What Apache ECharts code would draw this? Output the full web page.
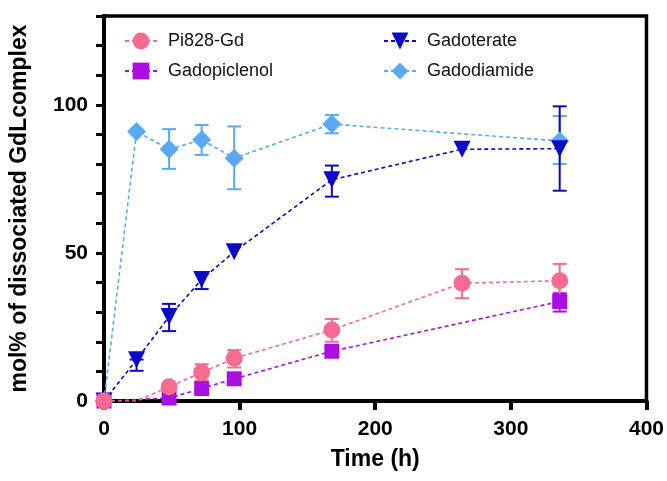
<!DOCTYPE html>
<html>
<head>
<meta charset="utf-8">
<script src="https://cdn.jsdelivr.net/npm/echarts@6/dist/echarts.min.js"></script>
<style>
  html, body { margin: 0; padding: 0; background: #fff; }
  #chart { width: 667px; height: 481px; }
</style>
</head>
<body>
<div id="chart"></div>
<script>
// time points (h) and mol% of dissociated complex
const pi828Time = [0, 24, 48, 72, 96, 168, 264, 336];
const pi828Val = [0, 0, 4.8, 9.6, 14.4, 24, 39.8, 40.6];
const pi828Low = [null, null, null, 6.8, 11.3, 20, 34.7, 35];
const pi828High = [null, null, null, 12.4, 17.2, 27.7, 44.5, 46.3];

const piclenolTime = [0, 48, 72, 96, 168, 336];
const piclenolVal = [0, 1, 4.2, 7.5, 16.8, 33.6];
const piclenolLow = [null, null, null, null, null, 30.2];
const piclenolHigh = [null, null, null, null, null, 36.4];

const teratTime = [0, 24, 48, 72, 96, 168, 264, 336];
const teratVal = [0, 13.9, 28.5, 41, 50.4, 74.7, 85, 85.2];
const teratLow = [null, 10.2, 23.6, 37.8, null, 69, null, 71];
const teratHigh = [null, 14, 32.8, 43.5, null, 79.5, null, 99.5];

const diamideTime = [0, 24, 48, 72, 96, 168, 336];
const diamideVal = [0, 91, 85, 88.2, 82, 93.5, 87.8];
const diamideLow = [null, null, 78.4, 83.1, 71.5, 90.4, 80];
const diamideHigh = [null, null, 91.8, 93.2, 92.7, 96.6, 96.2];

const xTicks = [0, 100, 200, 300, 400];
const yLabelTicks = [0, 50, 100];

const FONT = "'Liberation Sans', Arial, sans-serif";

function points(times, vals) {
  return times.map((t, i) => [t, vals[i]]);
}

function bars(times, low, high) {
  const out = [];
  times.forEach((t, i) => {
    if (low[i] != null) out.push([t, low[i], high[i]]);
  });
  return out;
}

function errorBar(color) {
  return function (params, api) {
    const lo = api.coord([api.value(0), api.value(1)]);
    const hi = api.coord([api.value(0), api.value(2)]);
    const w = 7;
    const style = { stroke: color, lineWidth: 2 };
    return {
      type: 'group',
      children: [
        { type: 'line', shape: { x1: lo[0], y1: lo[1], x2: hi[0], y2: hi[1] }, style: style },
        { type: 'line', shape: { x1: lo[0] - w, y1: lo[1], x2: lo[0] + w, y2: lo[1] }, style: style },
        { type: 'line', shape: { x1: hi[0] - w, y1: hi[1], x2: hi[0] + w, y2: hi[1] }, style: style }
      ]
    };
  };
}

function lineSeries(name, data, color, symbol, size, rotate) {
  return {
    name: name,
    type: 'line',
    data: data,
    symbol: symbol,
    symbolSize: size,
    symbolRotate: rotate || 0,
    z: 5,
    itemStyle: { color: color },
    lineStyle: { color: color, width: 1.6, type: [4, 3] },
    animation: false
  };
}

function barSeries(name, data, color) {
  return {
    name: name + ' SD',
    type: 'custom',
    data: data,
    z: 3,
    encode: { x: 0, y: [1, 2] },
    renderItem: errorBar(color),
    silent: true,
    animation: false
  };
}

const C_PI = '#f76a92';
const C_PIC = '#a90fe0';
const C_TER = '#0a0ac4';
const C_DIA = '#5aa9f5';

// the 24 h point of Pi828-Gd has no visible marker, only the line passes through it
const pi828Data = points(pi828Time, pi828Val).map((p) =>
  p[0] === 24 ? { value: p, symbolSize: 0 } : p
);

const legendBase = {
  orient: 'vertical', top: 27,
  itemWidth: 32, itemHeight: 21, itemGap: 12,
  textStyle: { fontFamily: FONT, fontSize: 18, color: '#111', padding: [0, 0, 0, 6] }
};

const chart = echarts.init(document.getElementById('chart'));
chart.setOption({
  backgroundColor: '#fff',
  grid: {
    left: 103, right: 19, top: 16, bottom: 80,
    show: true, borderColor: '#000', borderWidth: 3.5
  },
  legend: [
    Object.assign({ data: ['Pi828-Gd', 'Gadopiclenol'], left: 119 }, legendBase),
    Object.assign({ data: ['Gadoterate', 'Gadodiamide'], left: 378 }, legendBase)
  ],
  xAxis: {
    type: 'value', min: 0, max: 400, interval: 100,
    name: 'Time (h)', nameLocation: 'middle', nameGap: 47,
    nameTextStyle: { fontFamily: FONT, fontSize: 23, fontWeight: 'bold', color: '#000' },
    axisLine: { show: true, onZero: false, lineStyle: { color: '#000', width: 4 } },
    axisTick: { show: true, length: 9, lineStyle: { color: '#000', width: 4 } },
    axisLabel: {
      margin: 18, fontFamily: FONT, fontSize: 21, fontWeight: 'bold', color: '#000',
      formatter: (v) => (xTicks.includes(v) ? String(v) : '')
    },
    splitLine: { show: false }
  },
  yAxis: {
    type: 'value', min: 0, max: 130, interval: 10,
    name: 'mol% of dissociated GdLcomplex', nameLocation: 'middle', nameGap: 73,
    nameTextStyle: { fontFamily: FONT, fontSize: 23, fontWeight: 'bold', color: '#000' },
    axisLine: { show: true, onZero: false, lineStyle: { color: '#000', width: 4 } },
    axisTick: { show: true, length: 8, lineStyle: { color: '#000', width: 3 } },
    axisLabel: {
      margin: 16, fontFamily: FONT, fontSize: 21, fontWeight: 'bold', color: '#000',
      formatter: (v) => (yLabelTicks.includes(v) ? String(v) : '')
    },
    splitLine: { show: false }
  },
  series: [
    lineSeries('Gadodiamide', points(diamideTime, diamideVal), C_DIA, 'diamond', 19),
    lineSeries('Gadoterate', points(teratTime, teratVal), C_TER, 'triangle', 17, 180),
    lineSeries('Gadopiclenol', points(piclenolTime, piclenolVal), C_PIC, 'rect', 15),
    lineSeries('Pi828-Gd', pi828Data, C_PI, 'circle', 17),
    barSeries('Gadodiamide', bars(diamideTime, diamideLow, diamideHigh), C_DIA),
    barSeries('Gadoterate', bars(teratTime, teratLow, teratHigh), C_TER),
    barSeries('Gadopiclenol', bars(piclenolTime, piclenolLow, piclenolHigh), C_PIC),
    barSeries('Pi828-Gd', bars(pi828Time, pi828Low, pi828High), C_PI)
  ]
});
</script>
</body>
</html>
